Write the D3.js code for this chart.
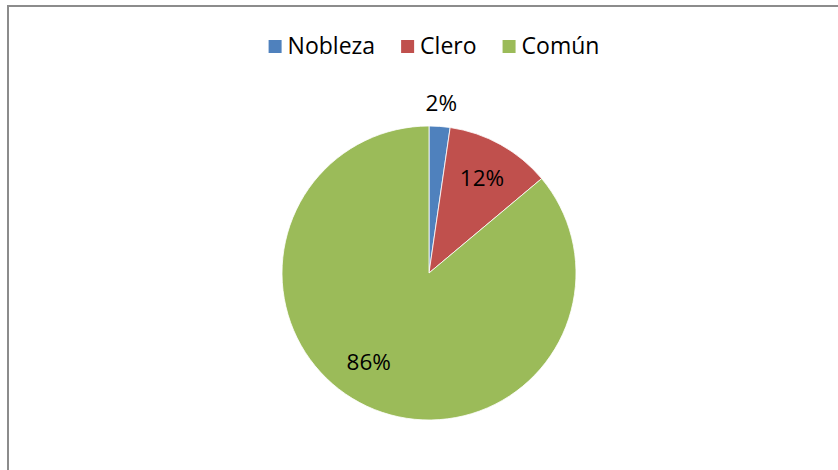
<!DOCTYPE html>
<html>
<head>
<meta charset="utf-8">
<script src="https://cdn.jsdelivr.net/npm/d3@7"></script>
<style>
  body { margin: 0; background: #fff; }
  svg { display: block; font-family: "Open Sans", sans-serif; }
</style>
</head>
<body>
<svg width="838" height="470"></svg>
<script>
const categories = ['Nobleza', 'Clero', 'Común'];
const values = [2.3, 11.6, 86.1];
const colors = ['#4F81BD', '#C0504D', '#9BBB59'];

const svg = d3.select('svg'),
  width = +svg.attr('width'),
  height = +svg.attr('height');

// chart frame (runs off the right and bottom edges)
svg.append('rect')
  .attr('x', 8).attr('y', 6)
  .attr('width', width + 20).attr('height', height + 20)
  .attr('fill', '#fff')
  .attr('stroke', '#8c8c8c')
  .attr('stroke-width', 2);

const cx = 429, cy = 273, r = 147;
const color = d3.scaleOrdinal(categories, colors);
const fmt = d3.format('.0%');
const total = d3.sum(values);

const pie = d3.pie().sort(null).value(d => d.value);
const data = pie(categories.map((c, i) => ({name: c, value: values[i]})));

const arc = d3.arc().innerRadius(0).outerRadius(r);
const inLabel = d3.arc().innerRadius(r * 0.74).outerRadius(r * 0.74);
const outLabel = d3.arc().innerRadius(r * 1.16).outerRadius(r * 1.16);

const g = svg.append('g').attr('transform', `translate(${cx},${cy})`);

g.selectAll('path')
  .data(data)
  .enter()
  .append('path')
  .attr('d', arc)
  .attr('fill', d => color(d.data.name))
  .attr('stroke', '#fff')
  .attr('stroke-width', 0.8);

g.selectAll('text')
  .data(data)
  .enter()
  .append('text')
  .attr('transform', d => {
    const small = d.endAngle - d.startAngle < 0.3;
    const p = (small ? outLabel : inLabel).centroid(d);
    // best-fit nudge for the big slice
    if (!small && d.data.value / total > 0.5) {
      const a = (d.startAngle + d.endAngle) / 2 + 0.16;
      p[0] = Math.sin(a) * r * 0.73;
      p[1] = -Math.cos(a) * r * 0.73;
    }
    return `translate(${p[0]},${p[1]})`;
  })
  .attr('text-anchor', 'middle')
  .attr('dy', '0.36em')
  .attr('font-size', 22.5)
  .attr('fill', '#000')
  .text(d => fmt(Math.round(d.data.value) / 100));

// legend
const legend = svg.append('g').attr('transform', 'translate(0,46)');
const items = legend.selectAll('g')
  .data(categories)
  .enter()
  .append('g');

items.append('rect')
  .attr('y', -6)
  .attr('width', 13).attr('height', 13)
  .attr('fill', d => color(d));

items.append('text')
  .attr('x', 19)
  .attr('dy', '0.36em')
  .attr('font-size', 23)
  .attr('fill', '#000')
  .text(d => d);

let x = 0;
const xs = [];
items.each(function() {
  xs.push(x);
  x += this.getBBox().width + 26;
});
const legendW = x - 26;
const x0 = 434 - legendW / 2;
items.attr('transform', (d, i) => `translate(${x0 + xs[i]},0)`);
</script>
</body>
</html>
